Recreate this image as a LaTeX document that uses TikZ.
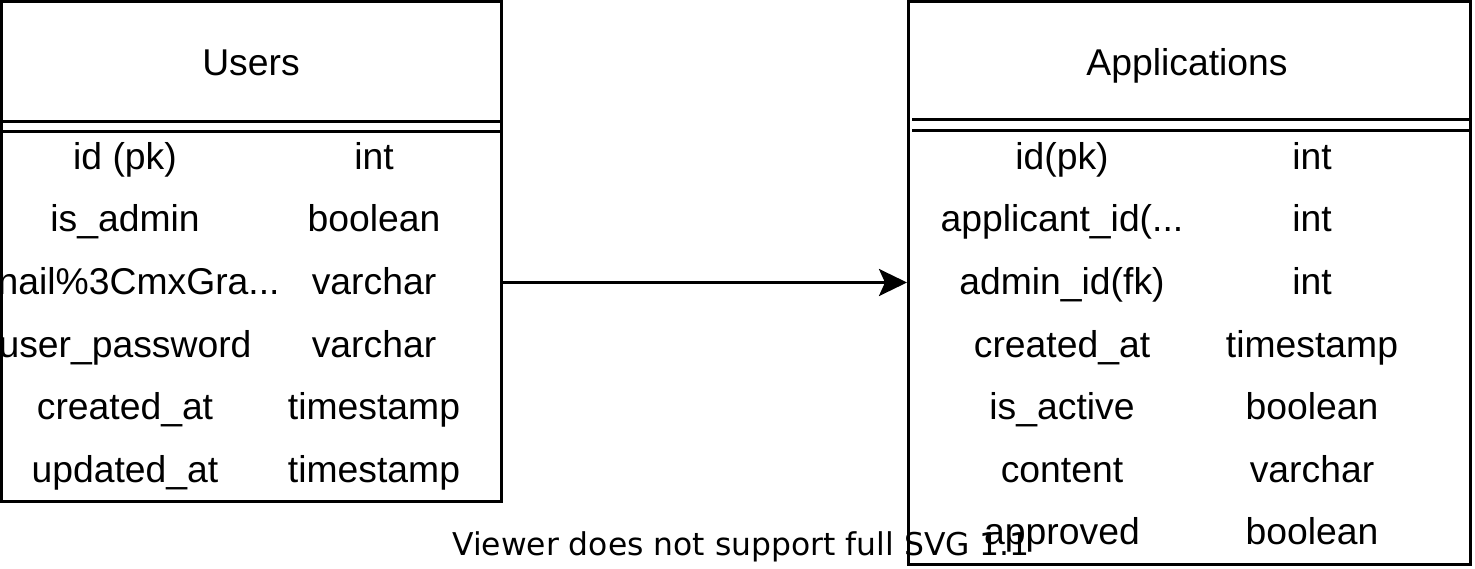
\documentclass[tikz,border=0pt]{standalone}
\usepackage{fontspec}
\setmainfont{Liberation Sans}
\newfontfamily\notefont{DejaVu Sans}
\usetikzlibrary{arrows.meta}
\begin{document}
\begin{tikzpicture}[x=1pt,y=-1pt,
  tbl/.style={draw=black, line width=3pt, inner sep=0pt, fill=white},
  sepline/.style={draw=black, line width=3pt},
  cell/.style={font=\fontsize{37.3}{44}\selectfont, inner sep=0pt, anchor=center,
               text height=26.5pt, text depth=5.5pt},
  conn/.style={draw=black, line width=3pt, -{Stealth[length=28pt, width=27pt, inset=6pt]}},
  note/.style={font=\notefont\fontsize{31.4}{38}\selectfont, inner sep=0pt, anchor=base west}]
\useasboundingbox (0,0) rectangle (1475,569);
\fill[white] (0,0) rectangle (1475,569);

% Users table
\node[tbl, minimum width=499.5pt, minimum height=499.5pt] (users) at (251.25,251.25) {};
\draw[sepline] (1.5,121.5) -- (501,121.5);
\draw[sepline] (1.5,132) -- (501,132);
\node[cell] (uh) at (251,65) {Users};
\node[cell] (uk1) at (125,159) {id (pk)};
\node[cell] (ut1) at (374,159) {int};
\node[cell] (uk2) at (125,221.5) {is\_admin};
\node[cell] (ut2) at (374,221.5) {boolean};
\node[cell, anchor=west] (uk3) at (-2.5,284) {nail\%3CmxGra...};
\node[cell] (ut3) at (374,284) {varchar};
\node[cell] (uk4) at (125,346.5) {user\_password};
\node[cell] (ut4) at (374,346.5) {varchar};
\node[cell] (uk5) at (125,409) {created\_at};
\node[cell] (ut5) at (374,409) {timestamp};
\node[cell] (uk6) at (125,471.5) {updated\_at};
\node[cell] (ut6) at (374,471.5) {timestamp};

% Applications table
\node[tbl, minimum width=561.5pt, minimum height=562.5pt] (apps) at (1189.25,282.75) {};
\draw[sepline] (912,119.5) -- (1470,119.5);
\draw[sepline] (912,130.5) -- (1470,130.5);
\node[cell] (ah) at (1187,65) {Applications};
\node[cell] (ak1) at (1062,159) {id(pk)};
\node[cell] (at1) at (1312,159) {int};
\node[cell] (ak2) at (1062,221.5) {applicant\_id(...};
\node[cell] (at2) at (1312,221.5) {int};
\node[cell] (ak3) at (1062,284) {admin\_id(fk)};
\node[cell] (at3) at (1312,284) {int};
\node[cell] (ak4) at (1062,346.5) {created\_at};
\node[cell] (at4) at (1312,346.5) {timestamp};
\node[cell] (ak5) at (1062,409) {is\_active};
\node[cell] (at5) at (1312,409) {boolean};
\node[cell] (ak6) at (1062,471.5) {content};
\node[cell] (at6) at (1312,471.5) {varchar};
\node[cell] (ak7) at (1062,534) {approved};
\node[cell] (at7) at (1312,534) {boolean};

% connector
\draw[conn] (users.east |- 0,282.5) -- (apps.west |- 0,282.5);

% viewer note
\node[note] (vnote) at (452,555) {Viewer does not support full SVG 1.1};
\end{tikzpicture}
\end{document}
